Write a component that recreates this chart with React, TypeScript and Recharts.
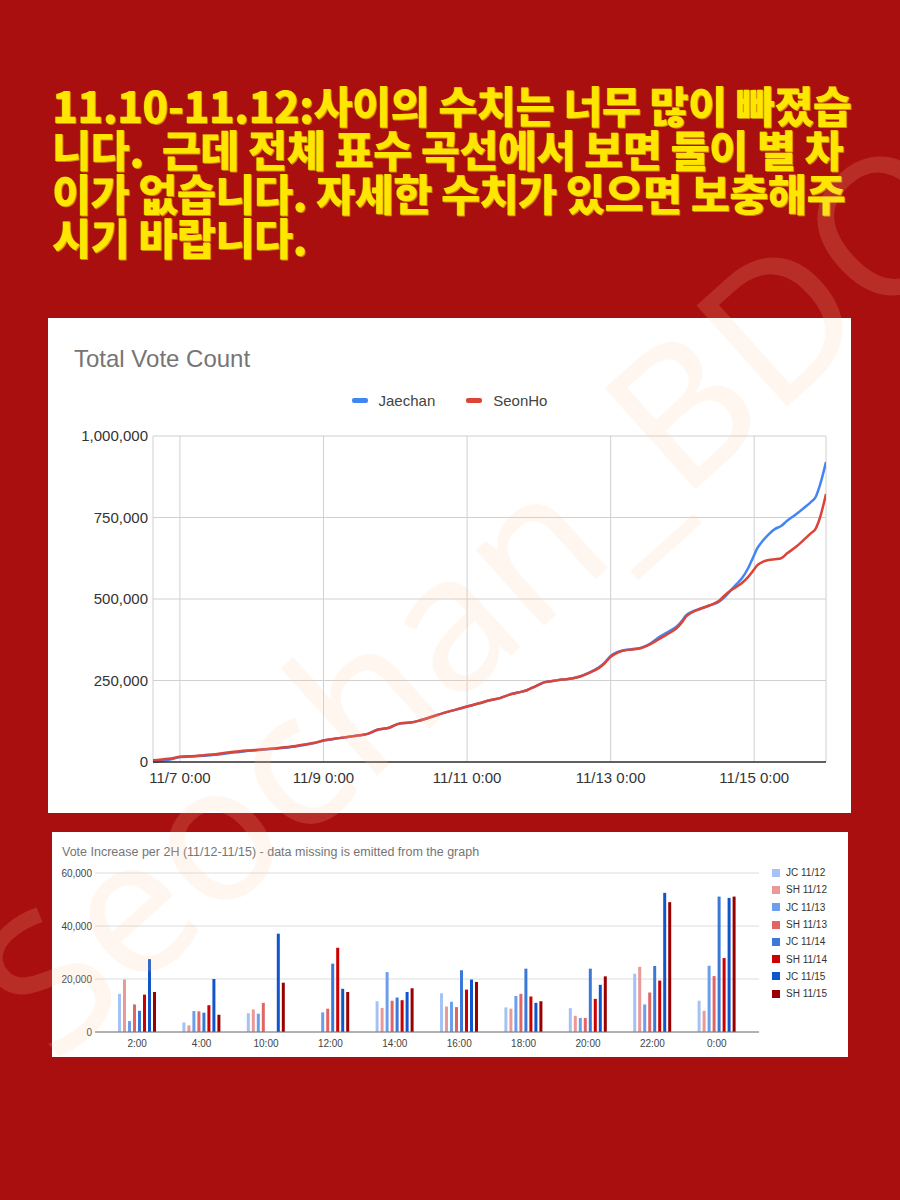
import React from 'react';
import { LineChart, Line, XAxis, YAxis, CartesianGrid, BarChart, Bar } from 'recharts';

const FONT = '"Liberation Sans", Arial, sans-serif';

const HEADING_LINES = [
  '11.10-11.12:사이의 수치는 너무 많이 빠졌습',
  '니다.  근데 전체 표수 곡선에서 보면 둘이 별 차',
  '이가 없습니다. 자세한 수치가 있으면 보충해주',
  '시기 바랍니다.',
];

const LINE_TITLE = 'Total Vote Count';
const LINE_SERIES_NAMES = ['Jaechan', 'SeonHo'];
const LINE_COLORS = ['#4285f4', '#db4437'];

// hours since 11/7 0:00
const HOURS = [
  -9, -6, -3, 0, 4, 8, 12, 16, 20, 24, 28, 33, 38, 42, 45, 48, 52, 56, 60, 63, 66, 70, 73, 77, 80,
  84, 88, 92, 96, 100, 104, 107, 110, 113, 116, 119, 122, 125, 128, 131, 134, 137, 140, 142, 144,
  146, 148, 151, 154, 157, 160, 163, 166, 168, 169, 171, 174, 177, 180, 182, 184, 186, 188, 190,
  191.5, 193, 195, 197, 199, 201, 203, 206, 209, 211, 212.5, 214, 216,
];
const JAECHAN = [
  0, 3000, 8000, 15000, 17000, 19500, 22000, 27000, 31000, 35000, 38000, 42000, 47000, 53000, 58000,
  66000, 71000, 77000, 82000, 87000, 99000, 105000, 117000, 121000, 127000, 138000, 150000, 160000,
  170000, 180000, 190000, 196000, 206000, 213000, 220000, 233000, 245000, 249000, 253000, 256000,
  263000, 275000, 290000, 305000, 325000, 336000, 342000, 346000, 350000, 362000, 382000, 398000,
  415000, 435000, 448000, 460000, 470000, 480000, 490000, 505000, 525000, 545000, 565000, 595000,
  625000, 655000, 680000, 700000, 715000, 724000, 740000, 760000, 782000, 798000, 812000, 850000,
  920000,
];
const SEONHO = [
  5000, 8000, 11000, 16000, 18000, 21000, 24000, 29000, 33000, 36000, 39000, 43000, 48000, 54000,
  59000, 66000, 72000, 77000, 82000, 87000, 99000, 105000, 117000, 121000, 127000, 138000, 150000,
  160000, 170000, 180000, 190000, 196000, 206000, 213000, 220000, 233000, 245000, 249000, 253000,
  256000, 263000, 274000, 288000, 303000, 323000, 334000, 341000, 345000, 349000, 360000, 376000,
  392000, 410000, 430000, 444000, 458000, 470000, 480000, 493000, 510000, 525000, 537000, 550000,
  568000, 585000, 603000, 615000, 620000, 622000, 625000, 640000, 660000, 685000, 702000, 715000,
  750000, 822000,
];
const LINE_X_TICKS = [0, 48, 96, 144, 192];
const LINE_X_LABELS = ['11/7 0:00', '11/9 0:00', '11/11 0:00', '11/13 0:00', '11/15 0:00'];
const LINE_Y_TICKS = [0, 250000, 500000, 750000, 1000000];

const BAR_TITLE = 'Vote Increase per 2H (11/12-11/15) - data missing is emitted from the graph';
const SLOTS = ['2:00', '4:00', '10:00', '12:00', '14:00', '16:00', '18:00', '20:00', '22:00', '0:00'];
const JC_1112 = [14400, 3600, 7100, null, 11600, 14600, 9300, 9000, 22000, 11800];
const SH_1112 = [19800, 2500, 8500, null, 9100, 9600, 8800, 6100, 24600, 8000];
const JC_1113 = [4100, 7900, 6900, 7400, 22600, 11400, 13600, 5300, 10400, 25000];
const SH_1113 = [10400, 7800, 11000, 8800, 11800, 9400, 14400, 5300, 14900, 21100];
const JC_1114 = [8000, 7300, null, 25800, 13000, 23300, 23900, 23900, 24900, 51100];
const SH_1114 = [14100, 10100, null, 31800, 12000, 16000, 13400, 12500, 19400, 27900];
const JC_1115 = [27500, 20000, 37100, 16300, 15100, 19800, 11000, 17800, 52500, 50600];
const SH_1115 = [15100, 6500, 18600, 15100, 16500, 18900, 11600, 21000, 49000, 51100];
const BAR_NAMES = ['JC 11/12', 'SH 11/12', 'JC 11/13', 'SH 11/13', 'JC 11/14', 'SH 11/14', 'JC 11/15', 'SH 11/15'];
const BAR_VALUES = [JC_1112, SH_1112, JC_1113, SH_1113, JC_1114, SH_1114, JC_1115, SH_1115];
const BAR_COLORS = ['#a4c2f4', '#ea9999', '#6d9eeb', '#e06666', '#3c78d8', '#cc0000', '#1155cc', '#990000'];
const BAR_Y_TICKS = [0, 20000, 40000, 60000];

const WATERMARK = 'Seochan_BDO';

const fmt = (v: number) => v.toLocaleString('en-US');

export default function App() {
  const lineData = HOURS.map((h, i) => ({ h, s0: JAECHAN[i], s1: SEONHO[i] }));
  const barData = SLOTS.map((slot, i) => {
    const row: Record<string, any> = { slot };
    BAR_VALUES.forEach((arr, k) => {
      row['b' + k] = arr[i];
    });
    return row;
  });

  return (
    <div
      style={{
        position: 'absolute',
        left: 0,
        top: 0,
        width: 900,
        height: 1200,
        background: '#aa0f0f',
        overflow: 'hidden',
        fontFamily: FONT,
      }}
    >
      <div
        style={{
          position: 'absolute',
          left: 52,
          top: 82,
          color: '#ffe600',
          fontFamily: '"Noto Sans CJK KR", sans-serif',
          fontWeight: 900,
          fontSize: 43,
          lineHeight: '44px',
          whiteSpace: 'pre',
          letterSpacing: -0.6,
          textShadow: '1px 1px 0 #d08a00',
          transform: 'scaleX(0.99)',
          transformOrigin: 'left top',
        }}
      >
        {HEADING_LINES.map((l) => (
          <div key={l}>{l}</div>
        ))}
      </div>

      <div style={{ position: 'absolute', left: 48, top: 318, width: 803, height: 495, background: '#fff' }}>
        <div style={{ position: 'absolute', left: 26, top: 27, fontSize: 24, color: '#757575', fontFamily: FONT }}>
          {LINE_TITLE}
        </div>
        <div
          style={{
            position: 'absolute',
            left: 0,
            top: 73,
            width: 803,
            height: 18,
            display: 'flex',
            justifyContent: 'center',
            alignItems: 'center',
            fontFamily: FONT,
            fontSize: 15,
            color: '#444',
          }}
        >
          {LINE_SERIES_NAMES.map((n, i) => (
            <div key={n} style={{ display: 'flex', alignItems: 'center', marginRight: i === 0 ? 31 : 0 }}>
              <div style={{ width: 16, height: 5, borderRadius: 2, background: LINE_COLORS[i], marginRight: 11 }} />
              <span>{n}</span>
            </div>
          ))}
        </div>
        <LineChart width={803} height={495} data={lineData} margin={{ top: 118, right: 25, bottom: 21, left: 5 }}>
          <CartesianGrid stroke="#d0d0d0" />
          <XAxis
            dataKey="h"
            type="number"
            domain={[-9, 216]}
            ticks={LINE_X_TICKS}
            tickFormatter={(v: number) => LINE_X_LABELS[LINE_X_TICKS.indexOf(v)]}
            tickLine={false}
            axisLine={{ stroke: '#333', strokeWidth: 1.5 }}
            tick={{ fontSize: 15, fill: '#333', fontFamily: FONT }}
            tickMargin={4}
            height={30}
            allowDataOverflow
          />
          <YAxis
            type="number"
            domain={[0, 1000000]}
            ticks={LINE_Y_TICKS}
            tickFormatter={fmt}
            tickLine={false}
            axisLine={false}
            tick={{ fontSize: 15, fill: '#333', fontFamily: FONT }}
            tickSize={3}
            tickMargin={2}
            width={100}
          />
          {LINE_SERIES_NAMES.map((n, i) => (
            <Line
              key={n}
              name={n}
              dataKey={'s' + i}
              type="monotone"
              stroke={LINE_COLORS[i]}
              strokeWidth={2.5}
              dot={false}
              isAnimationActive={false}
            />
          ))}
        </LineChart>
      </div>

      <div style={{ position: 'absolute', left: 52, top: 832, width: 796, height: 225, background: '#fff' }}>
        <div style={{ position: 'absolute', left: 10, top: 13, fontSize: 12.5, color: '#757575', fontFamily: FONT, whiteSpace: 'nowrap' }}>
          {BAR_TITLE}
        </div>
        <div style={{ position: 'absolute', left: 720, top: 32, fontFamily: FONT, fontSize: 10, color: '#333' }}>
          {BAR_NAMES.map((n, i) => (
            <div key={n} style={{ display: 'flex', alignItems: 'center', height: 17.3 }}>
              <div style={{ width: 8, height: 8, background: BAR_COLORS[i], marginRight: 6 }} />
              <span>{n}</span>
            </div>
          ))}
        </div>
        <BarChart
          width={796}
          height={225}
          data={barData}
          margin={{ top: 41, right: 89, bottom: 0, left: 5 }}
          barSize={3}
          barGap={2}
        >
          <CartesianGrid vertical={false} stroke="#dcdcdc" />
          <XAxis
            dataKey="slot"
            padding={{ left: 10, right: 10 }}
            tickLine={false}
            axisLine={{ stroke: '#777' }}
            tick={{ fontSize: 10, fill: '#444', fontFamily: FONT }}
            height={25}
          />
          <YAxis
            domain={[0, 60000]}
            ticks={BAR_Y_TICKS}
            tickFormatter={fmt}
            tickLine={false}
            axisLine={false}
            tick={{ fontSize: 10, fill: '#444', fontFamily: FONT }}
            tickSize={2}
            tickMargin={1}
            width={38}
          />
          {BAR_NAMES.map((n, k) => (
            <Bar key={n} name={n} dataKey={'b' + k} fill={BAR_COLORS[k]} isAnimationActive={false} />
          ))}
        </BarChart>
      </div>

      <div
        style={{
          position: 'absolute',
          left: 472,
          top: 592,
          transform: 'translate(-50%, -50%) rotate(-42deg)',
          fontSize: 190,
          lineHeight: 1,
          color: 'rgba(255, 200, 160, 0.17)',
          fontFamily: '"Noto Sans", sans-serif',
          whiteSpace: 'nowrap',
          pointerEvents: 'none',
        }}
      >
        {WATERMARK}
      </div>
    </div>
  );
}
